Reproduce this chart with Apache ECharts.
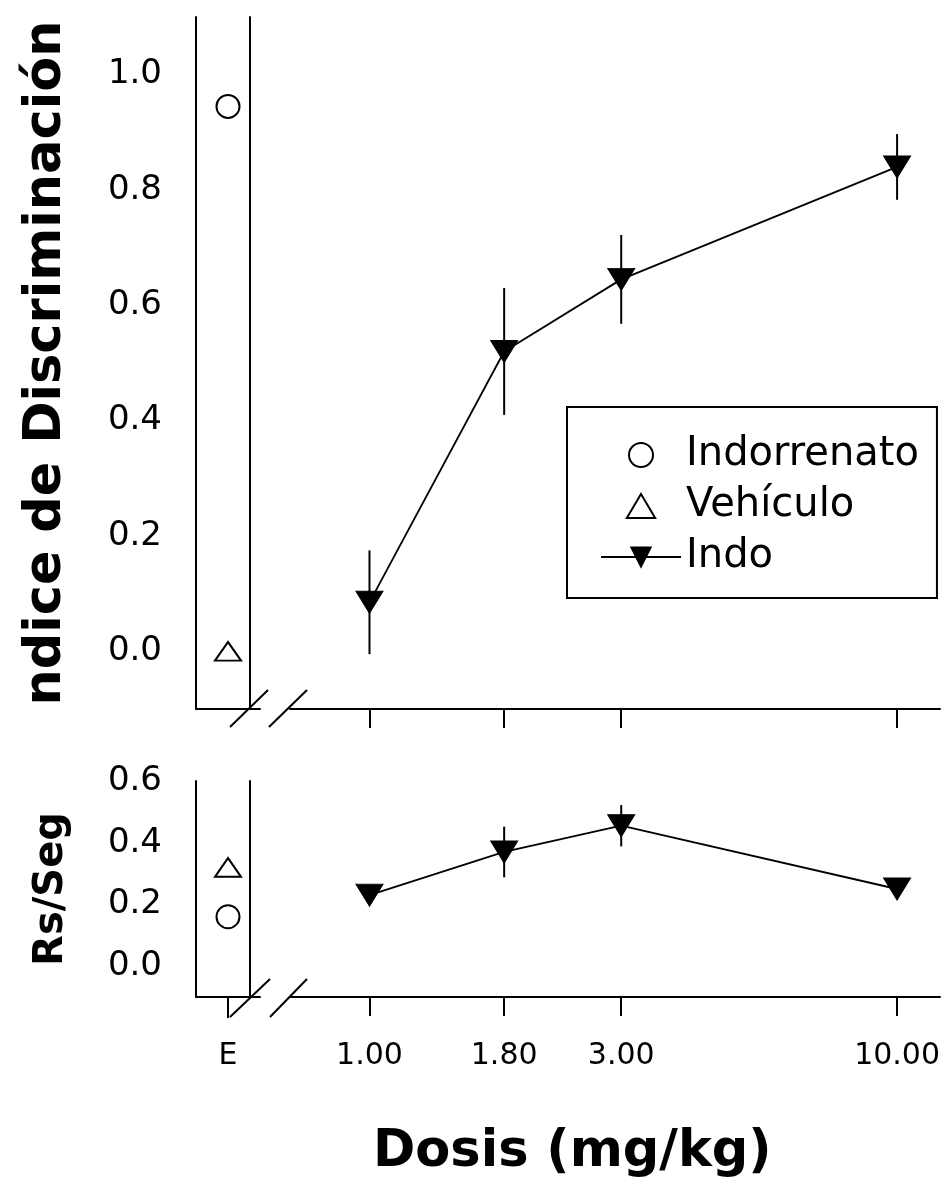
<!DOCTYPE html>
<html>
<head>
<meta charset="utf-8">
<title>Indice de discriminacion - dosis</title>
<script src="https://cdn.jsdelivr.net/npm/echarts@6/dist/echarts.min.js"></script>
<style>
  html, body { margin: 0; padding: 0; background: #fff; }
  #chart { width: 946px; height: 1190px; }
</style>
</head>
<body>
<div id="chart"></div>
<script>
// dosis (mg/kg), eje logaritmico
const doses = [1.0, 1.8, 3.0, 10.0];
const doseTicks = [1.0, 1.8, 3.0, 10.0];
const eCategory = ["E"];

// panel superior: indice de discriminacion
const indexTicks = [0.0, 0.2, 0.4, 0.6, 0.8, 1.0];
const indexIndo = [0.085, 0.52, 0.645, 0.84];
const indexIndoErr = [0.09, 0.11, 0.077, 0.057];
const indexIndorrenato = [0.945];
const indexVehiculo = [0.0];

// panel inferior: respuestas por segundo
const rateTicks = [0.0, 0.2, 0.4, 0.6];
const rateIndo = [0.23, 0.37, 0.455, 0.25];
const rateIndoErr = [0.025, 0.082, 0.067, 0.025];
const rateIndorrenato = [0.16];
const rateVehiculo = [0.32];

const FONT = "DejaVu Sans";
const black = "#000";
// triangulo hueco como path para que la leyenda respete la proporcion
const TRIANGLE = "path://M13,0L26,22L0,22Z";

function pairs(xs, ys) {
  return xs.map((x, i) => [x, ys[i]]);
}
function errRows(xs, ys, es) {
  return xs.map((x, i) => [x, ys[i] - es[i], ys[i] + es[i]]);
}
function errorBars(xi, yi, rows) {
  return {
    type: "custom",
    xAxisIndex: xi,
    yAxisIndex: yi,
    z: 1,
    silent: true,
    data: rows,
    renderItem: function (params, api) {
      const lo = api.coord([api.value(0), api.value(1)]);
      const hi = api.coord([api.value(0), api.value(2)]);
      return {
        type: "line",
        shape: { x1: lo[0], y1: lo[1], x2: hi[0], y2: hi[1] },
        style: { stroke: black, lineWidth: 2 }
      };
    }
  };
}

const axisLine = { show: true, onZero: false, lineStyle: { color: black, width: 2 } };

function eXAxis(grid, showTick) {
  return {
    type: "category",
    gridIndex: grid,
    data: eCategory,
    axisLine: axisLine,
    axisTick: { show: showTick, alignWithLabel: true, length: 21, lineStyle: { color: black, width: 2 } },
    axisLabel: { show: showTick, margin: 44, color: black, fontFamily: FONT, fontSize: 30 },
    splitLine: { show: false }
  };
}
function doseXAxis(grid, showLabel) {
  return {
    type: "log",
    gridIndex: grid,
    min: 0.7069,
    max: 12.06,
    axisLine: axisLine,
    axisTick: { customValues: doseTicks, length: 19, lineStyle: { color: black, width: 2 } },
    axisLabel: {
      show: showLabel,
      customValues: doseTicks,
      margin: 44,
      color: black, fontFamily: FONT, fontSize: 30,
      formatter: v => v.toFixed(2)
    },
    splitLine: { show: false },
    minorTick: { show: false }
  };
}
function leftYAxis(grid, min, max, ticks, name, nameSize) {
  return {
    type: "value",
    gridIndex: grid,
    min: min,
    max: max,
    position: "left",
    axisLine: axisLine,
    axisTick: { customValues: ticks, length: 20, lineStyle: { color: black, width: 2 } },
    axisLabel: {
      customValues: ticks, margin: 34,
      color: black, fontFamily: FONT, fontSize: 34,
      formatter: v => v.toFixed(1)
    },
    splitLine: { show: false },
    name: name,
    nameLocation: "middle",
    nameGap: 124,
    nameTextStyle: { color: black, fontFamily: FONT, fontSize: nameSize, fontWeight: "bold" }
  };
}
function rightLine(grid, min, max) {
  return {
    type: "value",
    gridIndex: grid,
    min: min,
    max: max,
    position: "right",
    offset: -10,
    axisLine: axisLine,
    axisTick: { show: false },
    axisLabel: { show: false },
    splitLine: { show: false }
  };
}
function hiddenY(grid, min, max) {
  return { type: "value", gridIndex: grid, min: min, max: max, show: false, splitLine: { show: false } };
}

const hollow = { color: "#fff", borderColor: black, borderWidth: 2, opacity: 1 };
const filled = { color: black, borderColor: black, borderWidth: 1, opacity: 1 };

const option = {
  backgroundColor: "#fff",
  animation: false,
  textStyle: { fontFamily: FONT },
  grid: [
    { left: 196, width: 64, top: 17, height: 692, outerBoundsMode: "none" },
    { left: 290, right: 6, top: 17, height: 692, outerBoundsMode: "none" },
    { left: 196, width: 64, top: 781, height: 216, outerBoundsMode: "none" },
    { left: 290, right: 6, top: 781, height: 216, outerBoundsMode: "none" }
  ],
  xAxis: [eXAxis(0, false), doseXAxis(1, false), eXAxis(2, true), doseXAxis(3, true)],
  yAxis: [
    leftYAxis(0, -0.1, 1.1, indexTicks, "ndice de Discriminación", 51),
    rightLine(0, -0.1, 1.1),
    hiddenY(1, -0.1, 1.1),
    leftYAxis(2, -0.1, 0.6, rateTicks, "Rs/Seg", 40),
    rightLine(2, -0.1, 0.6),
    hiddenY(3, -0.1, 0.6)
  ],
  legend: {
    data: ["Indorrenato", "Vehículo", "Indo"],
    orient: "vertical",
    left: 567,
    top: 407,
    padding: [28, 18, 21, 33],
    itemWidth: 80,
    itemHeight: 24,
    itemGap: 11,
    symbolKeepAspect: true,
    borderColor: black,
    borderWidth: 2,
    borderRadius: 0,
    backgroundColor: "#fff",
    textStyle: { color: black, fontFamily: FONT, fontSize: 40 },
    selectedMode: false
  },
  title: {
    text: "Dosis (mg/kg)",
    left: 368,
    top: 1122,
    textStyle: { color: black, fontFamily: FONT, fontSize: 51, fontWeight: "bold" }
  },
  graphic: [
    { type: "line", shape: { x1: 230, y1: 727, x2: 268, y2: 690 }, style: { stroke: black, lineWidth: 2 } },
    { type: "line", shape: { x1: 269, y1: 727, x2: 307, y2: 690 }, style: { stroke: black, lineWidth: 2 } },
    { type: "line", shape: { x1: 230, y1: 1017, x2: 270, y2: 979 }, style: { stroke: black, lineWidth: 2 } },
    { type: "line", shape: { x1: 270, y1: 1017, x2: 307, y2: 979 }, style: { stroke: black, lineWidth: 2 } }
  ],
  series: [
    {
      name: "Indorrenato", type: "scatter", xAxisIndex: 0, yAxisIndex: 0,
      symbol: "circle", symbolSize: 23, itemStyle: hollow,
      data: pairs(eCategory, indexIndorrenato)
    },
    {
      name: "Vehículo", type: "scatter", xAxisIndex: 0, yAxisIndex: 0,
      symbol: TRIANGLE, symbolKeepAspect: true, symbolSize: [26, 22], itemStyle: hollow,
      data: pairs(eCategory, indexVehiculo)
    },
    errorBars(1, 2, errRows(doses, indexIndo, indexIndoErr)),
    {
      name: "Indo", type: "line", xAxisIndex: 1, yAxisIndex: 2,
      symbol: "triangle", symbolRotate: 180, symbolSize: [27, 22], showSymbol: true,
      itemStyle: filled, lineStyle: { color: black, width: 1.8 },
      data: pairs(doses, indexIndo)
    },
    {
      name: "Indorrenato", type: "scatter", xAxisIndex: 2, yAxisIndex: 3,
      symbol: "circle", symbolSize: 23, itemStyle: hollow,
      data: pairs(eCategory, rateIndorrenato)
    },
    {
      name: "Vehículo", type: "scatter", xAxisIndex: 2, yAxisIndex: 3,
      symbol: TRIANGLE, symbolKeepAspect: true, symbolSize: [26, 22], itemStyle: hollow,
      data: pairs(eCategory, rateVehiculo)
    },
    errorBars(3, 5, errRows(doses, rateIndo, rateIndoErr)),
    {
      name: "Indo", type: "line", xAxisIndex: 3, yAxisIndex: 5,
      symbol: "triangle", symbolRotate: 180, symbolSize: [27, 22], showSymbol: true,
      itemStyle: filled, lineStyle: { color: black, width: 1.8 },
      data: pairs(doses, rateIndo)
    }
  ]
};

const chart = echarts.init(document.getElementById("chart"), null, { renderer: "canvas" });
chart.setOption(option);
</script>
</body>
</html>
